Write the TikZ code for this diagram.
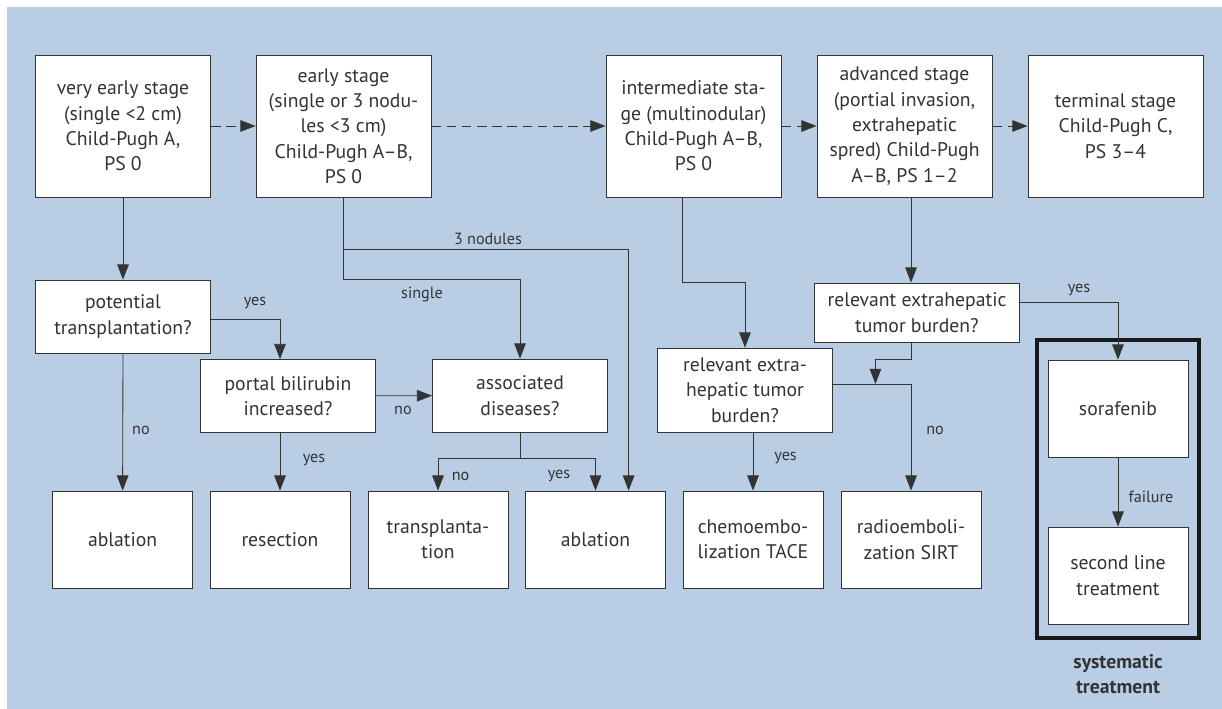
\documentclass[tikz,border=0pt]{standalone}
\usepackage{fontspec}
\setmainfont{PT Sans}
\usepackage{tikz}
\usetikzlibrary{arrows.meta,calc,positioning}
\definecolor{bgblue}{RGB}{185,205,229}
\definecolor{ink}{RGB}{51,51,51}

\begin{document}
\begin{tikzpicture}
[typeS/.style={rectangle,draw=ink,fill=white,text=ink,line width=0.6pt,align=center,inner sep=2pt,minimum width=4.375cm,minimum height=3.55cm,font=\fontsize{14}{18}\selectfont},
 typeQ/.style={typeS,minimum height=1.825cm},
 typeT/.style={typeS,minimum width=3.5cm,minimum height=2.425cm},
 typeF/.style={rectangle,draw=black!90,line width=1mm,minimum width=4.05cm,minimum height=7.45cm},
 lbl/.style={text=ink,inner sep=1pt,font=\fontsize{11.5}{13}\selectfont},
 arr/.style={draw=ink,line width=0.6pt,-{Triangle[length=3.8mm,width=2.9mm]}},
 dash arr/.style={arr,dash pattern=on 2.4mm off 1.4mm}]
\begin{scope}[x=0.025cm, y=-0.025cm]
\useasboundingbox (0,0) rectangle (1222,709);
\fill[bgblue] (7,7) rectangle (1222,709);
% stages
\node[typeS] (VE) at ( 123  ,126) {very early stage\\(single <2 cm)\\Child-Pugh A,\\PS 0};
\node[typeS] (ES) at ( 343.5,126) {early stage\\(single or 3 nodu-\\les <3 cm)\\Child-Pugh A--B,\\PS 0};
\node[typeS] (IS) at ( 693.5,126) {intermediate sta-\\ge (multinodular)\\Child-Pugh A--B,\\PS 0};
\node[typeS] (AS) at ( 904.5,126) {advanced stage\\(portial invasion,\\extrahepatic\\spred) Child-Pugh\\A--B, PS 1--2};
\node[typeS] (TS) at (1115.5,126) {terminal stage\\Child-Pugh C,\\PS 3--4};
% questions
\node[typeQ] (PT)  at ( 123  ,316.5) {potential\\transplantation?};
\node[typeQ] (PB)  at ( 288  ,396  ) {portal bilirubin\\increased?};
\node[typeQ] (AD)  at ( 520  ,395.5) {associated\\diseases?};
\node[typeQ,minimum height=2.1cm] (RB1) at (745,390) {relevant extra-\\hepatic tumor\\burden?};
\node[typeQ,minimum width=5.125cm,minimum height=1.475cm] (RB2) at (917,312.5) {relevant extrahepatic\\tumor burden?};
% treatments
\node[typeT] (AB1) at ( 122.6,539.5) {ablation};
\node[typeT] (RE)  at ( 280  ,539.5) {resection};
\node[typeT] (TX)  at ( 438  ,539.5) {transplanta-\\tion};
\node[typeT] (AB2) at ( 595.5,539.5) {ablation};
\node[typeT] (TA)  at ( 753  ,539.5) {chemoembo-\\lization TACE};
\node[typeT] (SI)  at ( 911  ,539.5) {radioemboli-\\zation SIRT};
% systemic block
\node[typeF] (SYS) at (1118,489) {};
\node[typeT] (SO)  at (1118,408.5) {sorafenib};
\node[typeT] (SL)  at (1118,575.5) {second line\\treatment};
\node[align=center,text=ink,font=\fontsize{14}{18}\selectfont\bfseries] (SYT) at (1118,674) {systematic\\treatment};
% turning points
\coordinate (n3) at (628.6,249);
\coordinate (sg) at (AD.north |- PT.north);
\coordinate (aj) at ($(AD.south)+(0,26)$);
\coordinate (ij) at (RB1.north |- RB2.north);
\coordinate (rj) at ($(RB1.east)+(42.5,-6)$);
\path (VE) edge[dash arr] (ES)
      (ES) edge[dash arr] (IS)
      (IS) edge[dash arr] (AS)
      (AS) edge[dash arr] (TS)
      (VE.south) edge[arr] (PT.north)
      (PT.south) edge[arr] (AB1.north)
      (PB) edge[arr] (AD)
      (PB.south -| RE.north) edge[arr] (RE.north)
      (RB1.south -| TA.north) edge[arr] (TA.north)
      (AS.south -| SI.north) edge[arr] (RB2.north -| SI.north)
      (SO) edge[arr] (SL);
\draw[arr] (ES.south) |- (n3) -- (n3 |- AB2.north);
\draw[arr] (ES.south) |- (sg) -- (AD.north);
\draw[arr] ($(PT.east)+(0,2.5)$) -| (PB.north -| RE.north);
\draw[draw=ink,line width=0.6pt] (AD.south) -- (aj);
\draw[arr] (aj) -| (TX.north);
\draw[arr] (aj) -| (AB2.north);
\draw[arr] ($(IS.south)+(-11,0)$) |- (ij) -- (RB1.north);
\draw[arr] ($(RB2.east)+(0,-10)$) -| (SO.north);
\draw[arr] ($(RB1.east)+(0,-6)$) -| (SI.north);
\draw[arr] (RB2.south -| SI.north) -- ++(0,17) -| (rj);
% labels
\node[lbl] (l3n) at ( 488  ,239) {3 nodules};
\node[lbl] (lsg) at ( 422  ,294) {single};
\node[lbl] (ly1) at ( 255  ,303) {yes};
\node[lbl] (ln1) at ( 141  ,430) {no};
\node[lbl] (ln2) at ( 403  ,410) {no};
\node[lbl] (ly2) at ( 314  ,460) {yes};
\node[lbl] (ln3) at ( 460.6,476) {no};
\node[lbl] (ly3) at ( 559  ,476) {yes};
\node[lbl] (ly4) at (1079  ,290) {yes};
\node[lbl] (ly5) at ( 785.6,458) {yes};
\node[lbl] (ln4) at ( 935  ,430) {no};
\node[lbl] (lfl) at (1151  ,497) {failure};
\end{scope}
\end{tikzpicture}
\end{document}
